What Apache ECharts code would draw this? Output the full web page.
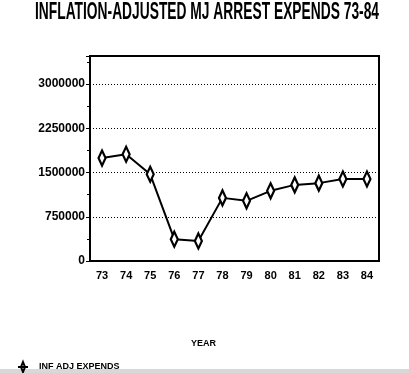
<!DOCTYPE html>
<html><head><meta charset="utf-8">
<script src="https://cdn.jsdelivr.net/npm/echarts@6/dist/echarts.min.js"></script>
<style>html,body{margin:0;padding:0;background:#fff}#c{width:409px;height:373px}</style>
</head><body><div id="c"></div>
<script>
const titleText = 'INFLATION-ADJUSTED MJ ARREST EXPENDS 73-84';
const years = ['73','74','75','76','77','78','79','80','81','82','83','84'];
const expends = [1745000, 1810000, 1470000, 370000, 340000, 1070000, 1020000, 1190000, 1290000, 1320000, 1390000, 1390000];
const seriesName = 'INF ADJ EXPENDS';
const xName = 'YEAR';
const FONT = '"Liberation Sans",sans-serif';

const chart = echarts.init(document.getElementById('c'), null, {renderer:'canvas'});
chart.setOption({
  animation: false,
  backgroundColor: '#fff',
  grid: {left: 90, right: 30, top: 56, bottom: 112, show: true, borderColor: '#000', borderWidth: 2, backgroundColor: 'transparent'},
  legend: {
    left: 12, top: 356, itemWidth: 22, itemHeight: 10, itemGap: 3,
    textStyle: {fontFamily: FONT, fontSize: 9, fontWeight: 'bold', color: '#000'},
    data: [{name: seriesName, icon: 'path://M0,5L10,5M5,0L7,5L5,10L3,5Z'}]
  },
  xAxis: {
    type: 'category', data: years, boundaryGap: true,
    name: xName, nameLocation: 'middle', nameGap: 78,
    nameTextStyle: {fontFamily: FONT, fontSize: 9, fontWeight: 'bold', color: '#000', padding: [0, 62, 0, 0]},
    axisLine: {lineStyle: {color: '#000', width: 2}},
    axisTick: {alignWithLabel: true, length: 5, lineStyle: {color: '#000', width: 2}},
    axisLabel: {fontFamily: FONT, fontSize: 11, fontWeight: 'bold', color: '#000', margin: 9}
  },
  yAxis: {
    type: 'value', min: 0, max: 3475000, interval: 750000,
    axisLine: {show: true, lineStyle: {color: '#000', width: 2}},
    axisTick: {show: true, length: 4, lineStyle: {color: '#000', width: 1}},
    minorTick: {show: true, splitNumber: 2, length: 3, lineStyle: {color: '#000'}},
    axisLabel: {fontFamily: FONT, fontSize: 12, fontWeight: 'bold', color: '#000', margin: 5,
      formatter: v => (v % 750000 === 0 ? String(v) : '')},
    splitLine: {show: true, lineStyle: {color: '#000', type: [1, 2], width: 1}}
  },
  series: [{
    name: seriesName, type: 'line', data: expends,
    symbol: 'diamond', symbolSize: [7, 15], showAllSymbol: true,
    lineStyle: {color: '#000', width: 2},
    itemStyle: {color: '#fff', borderColor: '#000', borderWidth: 2.5}
  }],
  graphic: [{
    type: 'text', x: 207, y: 1, scaleX: 0.6, silent: true,
    style: {text: titleText, textAlign: 'center', textVerticalAlign: 'top',
      font: 'bold 23px "Liberation Sans", sans-serif', fill: '#000'}
  }, {
    type: 'rect', left: 0, top: 369, shape: {width: 409, height: 4},
    style: {fill: '#d8d8d8'}, silent: true
  }]
});
</script></body></html>
